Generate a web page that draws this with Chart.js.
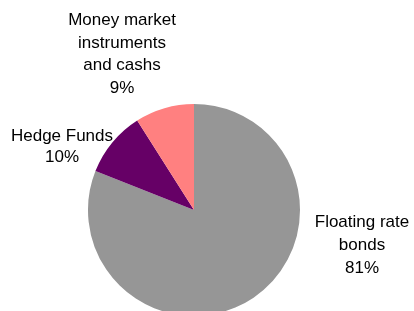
<!DOCTYPE html>
<html>
<head>
<meta charset="utf-8">
<script src="https://cdn.jsdelivr.net/npm/chart.js@4.4.0/dist/chart.umd.min.js"></script>
<style>
  html, body { margin: 0; padding: 0; background: #ffffff; overflow: hidden; width: 414px; height: 311px; }
  #wrap { position: absolute; left: 0; top: 0; width: 414px; height: 340px; }
</style>
</head>
<body>
<div id="wrap"><canvas id="c" width="414" height="340"></canvas></div>
<script>
// ---- Data ----
const categories = [
  ['Floating rate', 'bonds'],
  ['Hedge Funds'],
  ['Money market', 'instruments', 'and cashs']
];
const shares = [81, 10, 9];
const sliceColors = ['#969696', '#660066', '#FF8080'];

// ---- Label placement (layout only, relative to pie centre) ----
const labelPlacement = [
  { dx: 168, dy: 17, lineHeight: 23 },
  { dx: -132, dy: -69, lineHeight: 21 },
  { dx: -72, dy: -185, lineHeight: 22.7 }
];

const outsideLabels = {
  id: 'outsideLabels',
  afterDatasetsDraw(chart) {
    const ctx = chart.ctx;
    const meta = chart.getDatasetMeta(0);
    const data = chart.data.datasets[0].data;
    const total = data.reduce((a, b) => a + b, 0);
    ctx.save();
    ctx.font = '17px "Liberation Sans", Arial, sans-serif';
    ctx.fillStyle = '#000000';
    ctx.textAlign = 'center';
    ctx.textBaseline = 'alphabetic';
    meta.data.forEach((arc, i) => {
      const p = labelPlacement[i];
      const lines = [...chart.data.labels[i], Math.round(data[i] / total * 100) + '%'];
      lines.forEach((ln, k) => {
        ctx.fillText(ln, arc.x + p.dx, arc.y + p.dy + k * p.lineHeight);
      });
    });
    ctx.restore();
  }
};

new Chart(document.getElementById('c'), {
  type: 'pie',
  data: {
    labels: categories,
    datasets: [{
      data: shares,
      backgroundColor: sliceColors,
      borderWidth: 0
    }]
  },
  options: {
    responsive: false,
    animation: false,
    layout: { padding: { top: 104, bottom: 24, left: 0, right: 26 } },
    plugins: {
      legend: { display: false },
      tooltip: { enabled: false }
    }
  },
  plugins: [outsideLabels]
});
</script>
</body>
</html>
